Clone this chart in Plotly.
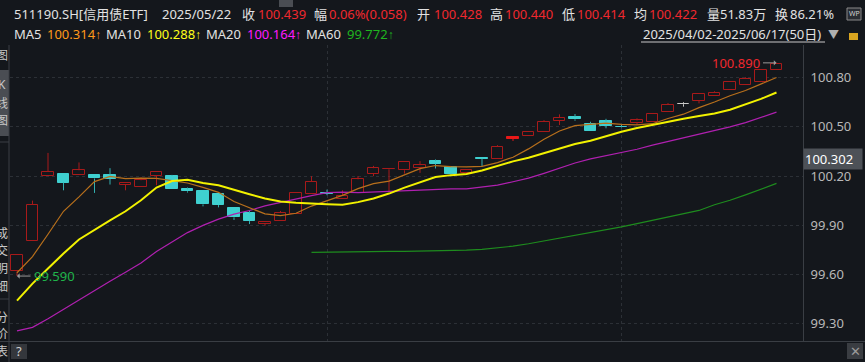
import plotly.graph_objects as go
import pandas as pd

# ---------------- data ----------------
dates = ["04/02", "04/03", "04/07", "04/08", "04/09", "04/10", "04/11", "04/14", "04/15", "04/16",
         "04/17", "04/18", "04/21", "04/22", "04/23", "04/24", "04/25", "04/28", "04/29", "04/30",
         "05/06", "05/07", "05/08", "05/09", "05/12", "05/13", "05/14", "05/15", "05/16", "05/19",
         "05/20", "05/21", "05/22", "05/23", "05/26", "05/27", "05/28", "05/29", "05/30", "06/03",
         "06/04", "06/05", "06/06", "06/09", "06/10", "06/11", "06/12", "06/13", "06/16", "06/17"]
opens = [99.618, 99.803, 100.203, 100.215, 100.209, 100.209, 100.207, 100.148, 100.131, 100.203,
         100.201, 100.119, 100.107, 100.089, 100.007, 99.974, 99.909, 99.923, 99.971, 100.093,
         100.097, 100.062, 100.099, 100.215, 100.241, 100.235, 100.246, 100.292, 100.254, 100.221,
         100.309, 100.305, 100.428, 100.445, 100.470, 100.537, 100.561, 100.517, 100.533, 100.500,
         100.525, 100.527, 100.588, 100.637, 100.659, 100.686, 100.723, 100.754, 100.776, 100.847]
highs = [99.720, 100.050, 100.341, 100.215, 100.283, 100.209, 100.248, 100.160, 100.191, 100.227,
         100.207, 100.130, 100.107, 100.089, 100.007, 99.987, 99.922, 99.987, 100.097, 100.199,
         100.117, 100.113, 100.200, 100.262, 100.244, 100.286, 100.291, 100.301, 100.254, 100.235,
         100.309, 100.388, 100.440, 100.468, 100.541, 100.576, 100.578, 100.531, 100.549, 100.517,
         100.552, 100.580, 100.645, 100.650, 100.698, 100.717, 100.772, 100.802, 100.847, 100.890]
lows = [99.590, 99.803, 100.203, 100.113, 100.209, 100.097, 100.148, 100.113, 100.131, 100.144,
        100.119, 100.099, 100.015, 100.009, 99.932, 99.907, 99.897, 99.923, 99.971, 100.093,
        100.083, 100.062, 100.099, 100.199, 100.103, 100.215, 100.219, 100.246, 100.199, 100.221,
        100.260, 100.305, 100.414, 100.445, 100.470, 100.511, 100.537, 100.474, 100.491, 100.491,
        100.511, 100.527, 100.588, 100.623, 100.643, 100.686, 100.723, 100.754, 100.776, 100.847]
closes = [99.720, 100.026, 100.225, 100.160, 100.235, 100.185, 100.182, 100.160, 100.174, 100.227,
          100.119, 100.107, 100.027, 100.023, 99.948, 99.925, 99.922, 99.974, 100.097, 100.166,
          100.093, 100.081, 100.180, 100.248, 100.244, 100.286, 100.266, 100.276, 100.215, 100.235,
          100.305, 100.380, 100.439, 100.468, 100.531, 100.554, 100.546, 100.474, 100.506, 100.496,
          100.539, 100.580, 100.633, 100.637, 100.698, 100.708, 100.772, 100.792, 100.847, 100.885]
# moving-average values whose window reaches before the shown period
ma5_head = [99.610, 99.709, 99.845, 99.985]
ma10_head = [99.440, 99.544, 99.636, 99.728, 99.813, 99.874, 99.930, 99.985, 100.052]
ma20_head = [99.256, 99.277, 99.330, 99.388, 99.445, 99.502, 99.558, 99.613, 99.670, 99.740,
             99.800, 99.855, 99.899, 99.937, 99.968, 99.990, 100.018, 100.040, 100.058]
ma60_start = 19
ma60_vals = [99.735, 99.737, 99.738, 99.739, 99.740, 99.741, 99.741, 99.742, 99.743, 99.745,
             99.748, 99.753, 99.762, 99.772, 99.787, 99.804, 99.818, 99.835, 99.853, 99.871,
             99.890, 99.910, 99.930, 99.950, 99.970, 99.990, 100.025, 100.052, 100.085, 100.120,
             100.155]
# header texts for the selected day
selected_date = "05/22"
header_ma_labels = ["MA5", "MA10", "MA20", "MA60"]
header_ma_values = ["100.314", "100.288", "100.164", "99.772"]
header_change = "0.06%(0.058)"
header_avg = "100.422"
header_volume = "51.83万"
header_turnover = "86.21%"
cursor_price = 100.302
y_ticks = [99.30, 99.60, 99.90, 100.20, 100.50, 100.80]
month_starts = ["05/06", "06/03"]

# ---------------- derived ----------------
n = len(closes)
xs = list(range(n))
cs = pd.Series(closes)
ma5 = cs.rolling(5).mean().tolist(); ma5[:len(ma5_head)] = ma5_head
ma10 = cs.rolling(10).mean().tolist(); ma10[:len(ma10_head)] = ma10_head
ma20 = cs.rolling(20).mean().tolist(); ma20[:len(ma20_head)] = ma20_head
ma60 = [None] * ma60_start + ma60_vals
sel = dates.index(selected_date)

BG = "#14171c"
UP = "#a81a1a"
UP_SEL = "#e81818"
DOWN = "#3fd0d0"
DOWN_WICK = "#33b0b0"
FLAT = "#c8c8c8"
GRID = "#2c3036"
BORDER = "#3a3e44"

groups = {"up": [], "down": [], "flat": [], "sel": []}
for i in xs:
    if i == sel:
        groups["sel"].append(i)
    elif closes[i] > opens[i]:
        groups["up"].append(i)
    elif closes[i] < opens[i]:
        groups["down"].append(i)
    else:
        groups["flat"].append(i)

style = {
    "up": dict(fill=BG, line=UP, wick=UP),
    "down": dict(fill=DOWN, line=DOWN, wick=DOWN_WICK),
    "flat": dict(fill=FLAT, line=FLAT, wick=FLAT),
    "sel": dict(fill=UP_SEL, line=UP_SEL, wick=UP_SEL),
}

fig = go.Figure()
MINH = 0.004
for g, idx in groups.items():
    if not idx:
        continue
    st = style[g]
    wx, wy = [], []
    for i in idx:
        top = max(opens[i], closes[i]); bot = min(opens[i], closes[i])
        if highs[i] > top:
            wx += [i, i, None]; wy += [top, highs[i], None]
        if lows[i] < bot:
            wx += [i, i, None]; wy += [lows[i], bot, None]
    fig.add_trace(go.Bar(
        x=idx,
        base=[min(opens[i], closes[i]) for i in idx],
        y=[max(abs(closes[i] - opens[i]), MINH) for i in idx],
        width=0.72,
        marker=dict(color=st["fill"], line=dict(color=st["line"], width=1)),
        showlegend=False, hoverinfo="skip"))
    if wx:
        fig.add_trace(go.Scatter(x=wx, y=wy, mode="lines",
                                 line=dict(color=st["wick"], width=1),
                                 showlegend=False, hoverinfo="skip"))

for vals, col, w in [(ma60, "#1e8c1e", 1.2), (ma20, "#b020b0", 1.2),
                     (ma5, "#b8701c", 1.2), (ma10, "#f2f200", 2.0)]:
    fig.add_trace(go.Scatter(x=xs, y=vals, mode="lines", line=dict(color=col, width=w),
                             showlegend=False, hoverinfo="skip"))

# ---------------- layout helpers (pixel -> paper) ----------------
W, H = 865, 362
PL, PR, PT, PB = 10, 803, 45, 341
def fx(px): return (px - PL) / (PR - PL)
def fy(py): return (PB - py) / (PB - PT)

FONT = "Noto Sans, Noto Sans CJK SC, sans-serif"
WHITE = "#e2e2e2"
RED = "#f0282e"
ann = []
def txt(x, y, s, color, size=13, anchor="left", family=FONT):
    ann.append(dict(x=fx(x), y=fy(y), xref="paper", yref="paper", text=s, showarrow=False,
                    xanchor=anchor, yanchor="middle", font=dict(family=family, size=size, color=color)))

# header line 1
txt(12, 14, "511190.SH[信用债ETF]", WHITE)
txt(160, 14, "2025/" + selected_date, WHITE)
txt(240, 14, "收", WHITE); txt(256, 14, f"{closes[sel]:.3f}", RED)
txt(312, 14, "幅", WHITE); txt(327, 14, header_change, RED)
txt(415, 14, "开", WHITE); txt(432, 14, f"{opens[sel]:.3f}", RED)
txt(488, 14, "高", WHITE); txt(503, 14, f"{highs[sel]:.3f}", RED)
txt(560, 14, "低", WHITE); txt(575, 14, f"{lows[sel]:.3f}", RED)
txt(632, 14, "均", WHITE); txt(647, 14, header_avg, RED)
txt(705, 14, "量", WHITE); txt(718, 14, header_volume, WHITE)
txt(773, 14, "换", WHITE); txt(788, 14, header_turnover, WHITE)
# header line 2
ma_cols = ["#ff9a1a", "#ffff1a", "#ff1aff", "#1fb41f"]
ARROW = "<span style='font-family:Liberation Sans, DejaVu Sans Condensed;font-size:12px'>↑</span>"
for lab, val, col, lx, vx in zip(header_ma_labels, header_ma_values, ma_cols,
                                 [12, 104, 204, 304], [45, 145, 245, 345]):
    txt(lx, 34, lab, WHITE); txt(vx, 34, val + ARROW, col)
txt(641, 34, "2025/04/02-2025/06/17(50日)", WHITE)
txt(826, 34, "▼", "#b0b0b0", size=11)

# high / low markers
hi = max(range(n), key=lambda i: highs[i]); lo = min(range(n), key=lambda i: lows[i])
ann.append(dict(x=hi, y=highs[hi], xref="x", yref="y", ax=-15, ay=0, text="", showarrow=True,
                arrowhead=1, arrowsize=0.9, arrowwidth=1, arrowcolor="#9a9a9a"))
ann.append(dict(x=hi, y=highs[hi], xref="x", yref="y", xshift=-15, text=f"{highs[hi]:.3f}",
                showarrow=False, xanchor="right", yanchor="middle",
                font=dict(family=FONT, size=13, color=RED)))
ann.append(dict(x=lo, y=lows[lo], xref="x", yref="y", ax=15, ay=0, text="", showarrow=True,
                arrowhead=1, arrowsize=0.9, arrowwidth=1, arrowcolor="#9a9a9a"))
ann.append(dict(x=lo, y=lows[lo], xref="x", yref="y", xshift=15, text=f"{lows[lo]:.3f}",
                showarrow=False, xanchor="left", yanchor="middle",
                font=dict(family=FONT, size=13, color="#1fb44a")))
# cursor price tag
ann.append(dict(x=1, y=cursor_price, xref="paper", yref="y", text=f"{cursor_price:.3f}",
                showarrow=False, xanchor="left", yanchor="middle", xshift=0, width=56, align="left",
                bgcolor="#4d5157", borderpad=1, font=dict(family=FONT, size=13, color="#ffffff")))

# left tool strip characters (half visible, as in the reference)
for ch, yy in [("图", 55), ("K", 85), ("线", 103), ("图", 120), ("成", 233), ("交", 250),
               ("明", 268), ("细", 286), ("分", 317), ("价", 333), ("表", 352)]:
    ann.append(dict(x=fx(2), y=fy(yy), xref="paper", yref="paper", text=ch, showarrow=False,
                    xanchor="center", yanchor="middle", font=dict(family=FONT, size=12, color="#c8c8c8")))
# bottom buttons
ann.append(dict(x=fx(19), y=fy(351), xref="paper", yref="paper", text="?", showarrow=False,
                xanchor="center", yanchor="middle", font=dict(family=FONT, size=13, color="#d0d0d0")))
ann.append(dict(x=fx(855), y=fy(351), xref="paper", yref="paper", text="✕", showarrow=False,
                xanchor="center", yanchor="middle", font=dict(family=FONT, size=13, color="#9a9a9a")))
ann.append(dict(x=fx(854), y=fy(14), xref="paper", yref="paper", text="WP", showarrow=False,
                xanchor="center", yanchor="middle", font=dict(family=FONT, size=7, color="#d0d0d0")))

shapes = []
def rect(x0, y0, x1, y1, fill, line=None):
    shapes.append(dict(type="rect", xref="paper", yref="paper", x0=fx(x0), x1=fx(x1), y0=fy(y1), y1=fy(y0),
                       fillcolor=fill, line=dict(width=1 if line else 0, color=line or fill), layer="below"))
def hline(x0, x1, y, col, w=1):
    shapes.append(dict(type="line", xref="paper", yref="paper", x0=fx(x0), x1=fx(x1), y0=fy(y), y1=fy(y),
                       line=dict(color=col, width=w)))
def vline(x, y0, y1, col, w=1):
    shapes.append(dict(type="line", xref="paper", yref="paper", x0=fx(x), x1=fx(x), y0=fy(y0), y1=fy(y1),
                       line=dict(color=col, width=w)))

rect(0, 70, 9, 136, "#4a4d53")
rect(279, 0, 293, 7, "#4a4d53")
rect(11, 344, 27, 359, "#34373c")
rect(847, 343, 863, 359, "#3a3d42")
rect(847, 8, 861, 20, "#2a2d33", "#8a8a8a")
rect(849, 33, 858, 40, "#d9a520")
vline(9, 45, 362, BORDER)
hline(0, 9, 142, BORDER)
hline(0, 9, 299, BORDER)
hline(0, 865, PB + 0.5, BORDER)
hline(641, 825, 42, "#c8c8c8")

fig.update_layout(
    width=W, height=H, paper_bgcolor=BG, plot_bgcolor=BG,
    margin=dict(l=PL, r=W - PR, t=PT, b=H - PB),
    barmode="overlay", bargap=0, showlegend=False,
    annotations=ann, shapes=shapes,
    xaxis=dict(range=[(PL - 17) / 15.5, (PR - 17) / 15.5], tickvals=[dates.index(d) for d in month_starts],
               showticklabels=False, ticks="", showgrid=True, gridcolor=GRID, griddash="dot", gridwidth=1,
               zeroline=False, showline=False, fixedrange=True),
    yaxis=dict(side="right", range=[99.194, 100.999], tickvals=y_ticks, tickformat=".2f",
               showgrid=True, gridcolor=GRID, griddash="dot", gridwidth=1, zeroline=False,
               showline=True, linecolor=BORDER, linewidth=1, ticks="", ticklabelstandoff=4,
               tickfont=dict(family=FONT, size=13, color="#b8b8b8")),
)
fig.write_html("out.html", config={"displayModeBar": False},
               post_script="document.body.style.margin='0';document.body.style.overflow='hidden';")
